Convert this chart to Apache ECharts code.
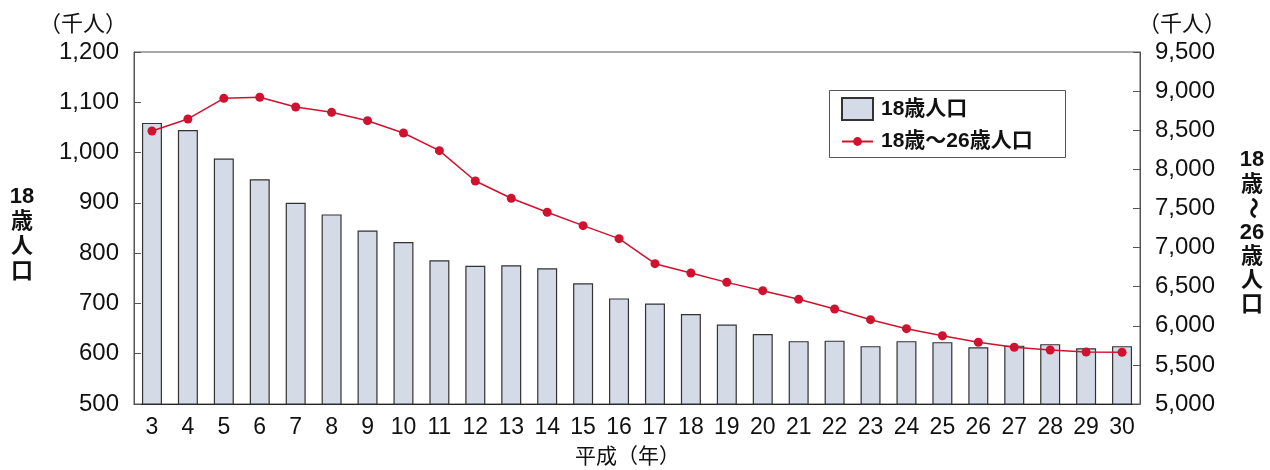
<!DOCTYPE html>
<html><head><meta charset="utf-8">
<script src="https://cdn.jsdelivr.net/npm/echarts@6/dist/echarts.min.js"></script>
<style>html,body{margin:0;padding:0;background:#fff}#c{width:1270px;height:470px}</style>
</head><body><div id="c"></div>
<script>
const categories = ['3','4','5','6','7','8','9','10','11','12','13','14','15','16','17','18','19','20','21','22','23','24','25','26','27','28','29','30'];
const pop18 = [1059,1045,988,947,900,877,845,822,786,775,776,770,740,710,700,679,658,639,625,626,615,625,623,613,616,619,611,615];
const pop18to26 = [8490,8644,8908,8921,8797,8729,8622,8465,8239,7851,7630,7451,7280,7114,6794,6675,6555,6449,6338,6215,6078,5963,5873,5789,5725,5690,5665,5661];
const leftTicks = {min:500, max:1200, interval:100};
const rightTicks = {min:5000, max:9500, interval:500};

const FONT = '"Liberation Sans", "Noto Sans CJK JP", sans-serif';
const chart = echarts.init(document.getElementById('c'));
const fmt = v => v.toLocaleString('en-US');
const legendText = {fontFamily:FONT,fontSize:21,fontWeight:'bold',color:'#111',padding:[0,0,0,3]};
chart.setOption({
  animation:false,
  grid:{left:134,right:130,top:52,bottom:66,show:true,borderColor:'#555',borderWidth:1},
  legend:[{
    left:841, top:97, padding:0, itemWidth:31, itemHeight:22,
    textStyle:legendText,
    data:[{name:'18歳人口',icon:'rect'}]
  },{
    left:841, top:131, padding:0, itemWidth:31, itemHeight:11,
    textStyle:legendText,
    data:['18歳～26歳人口']
  }],
  xAxis:{
    type:'category', data:categories,
    axisLine:{lineStyle:{color:'#222'}}, axisTick:{show:false},
    axisLabel:{fontFamily:FONT,fontSize:23,color:'#111',margin:12}
  },
  yAxis:[{
    type:'value', min:leftTicks.min, max:leftTicks.max, interval:leftTicks.interval,
    axisLine:{show:true,lineStyle:{color:'#555'}},
    axisTick:{show:true,inside:true,length:7,lineStyle:{color:'#555'}},
    splitLine:{show:false},
    axisLabel:{fontFamily:FONT,fontSize:24,color:'#111',margin:15,formatter:fmt}
  },{
    type:'value', min:rightTicks.min, max:rightTicks.max, interval:rightTicks.interval,
    position:'right',
    axisLine:{show:true,lineStyle:{color:'#555'}},
    axisTick:{show:true,inside:true,length:7,lineStyle:{color:'#555'}},
    splitLine:{show:false},
    axisLabel:{fontFamily:FONT,fontSize:24,color:'#111',margin:15,formatter:fmt}
  }],
  series:[{
    name:'18歳人口', type:'bar', data:pop18, barWidth:20, yAxisIndex:0,
    itemStyle:{color:'#d5dae7',borderColor:'#333',borderWidth:1.2}
  },{
    name:'18歳～26歳人口', type:'line', data:pop18to26, yAxisIndex:1,
    symbol:'circle', symbolSize:9,
    lineStyle:{color:'#d0122e',width:1.5}, itemStyle:{color:'#d0122e'}
  }],
  graphic:[
    {type:'rect',shape:{x:829.5,y:90.5,width:236,height:67},style:{fill:'none',stroke:'#555',lineWidth:1},z:-1},
    {type:'text',left:39,top:14,style:{text:'（千人）',font:'22px '+FONT,fill:'#111'}},
    {type:'text',left:1138,top:14,style:{text:'（千人）',font:'22px '+FONT,fill:'#111'}},
    {type:'text',left:575,top:447,style:{text:'平成（年）',font:'21px '+FONT,fill:'#111'}},
    {type:'text',x:22,y:184,style:{text:'18\n歳\n人\n口',font:'bold 22px '+FONT,fill:'#111',align:'center',lineHeight:25}},
    {type:'text',x:1252,y:147,style:{text:'18\n歳',font:'bold 22px '+FONT,fill:'#111',align:'center',lineHeight:25}},
    {type:'text',x:1252,y:208,rotation:-Math.PI/2,style:{text:'～',font:'bold 22px '+FONT,fill:'#111',align:'center',verticalAlign:'middle'}},
    {type:'text',x:1252,y:221,style:{text:'26\n歳\n人\n口',font:'bold 22px '+FONT,fill:'#111',align:'center',lineHeight:24}}
  ]
});
</script></body></html>
